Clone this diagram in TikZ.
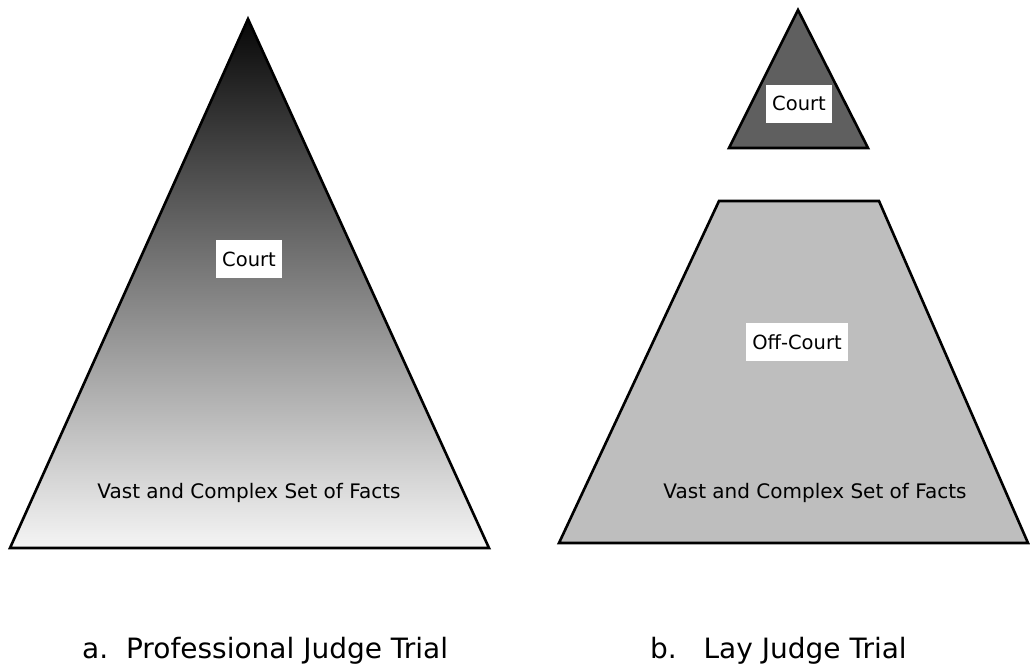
\documentclass[tikz,border=0pt]{standalone}
\usepackage{fontspec}
\setmainfont{DejaVu Sans}
\begin{document}
\begin{tikzpicture}[x=1pt,y=-1pt,
  shapeline/.style={draw=black,line width=2.6pt,line join=miter},
  labelbox/.style={fill=white,inner xsep=6pt,inner ysep=12pt,text height=14pt,text depth=0pt,font=\fontsize{19.5}{22}\selectfont},
  facts/.style={anchor=base,inner sep=0pt,font=\fontsize{20}{24}\selectfont},
  caption/.style={anchor=base west,inner sep=0pt,font=\fontsize{28}{32}\selectfont}]
\useasboundingbox (0,0) rectangle (1030,666);
% left triangle
\shade[top color=black!97,bottom color=white!96!black]
  (248,19) -- (489,548) -- (10,548) -- cycle;
\draw[shapeline] (248,19) -- (489,548) -- (10,548) -- cycle;
\node[labelbox] (courtA) at (249,259) {Court};
\node[facts] (factsA) at (249,498) {Vast and Complex Set of Facts};
% right small triangle
\draw[shapeline,fill={rgb,255:red,95;green,95;blue,95}] (798,10) -- (868,148) -- (729,148) -- cycle;
\node[labelbox] (courtB) at (799,104) {Court};
% right trapezoid
\draw[shapeline,fill={rgb,255:red,190;green,190;blue,190}] (719,201) -- (879,201) -- (1028,543) -- (559,543) -- cycle;
\node[labelbox] (offcourt) at (797,342) {Off-Court};
\node[facts] (factsB) at (815,498) {Vast and Complex Set of Facts};
% captions
\node[caption] (capA) at (82,658) {a.\ \ Professional Judge Trial};
\node[caption] (capB) at (650,658) {b.\ \ \ Lay Judge Trial};
\end{tikzpicture}
\end{document}
